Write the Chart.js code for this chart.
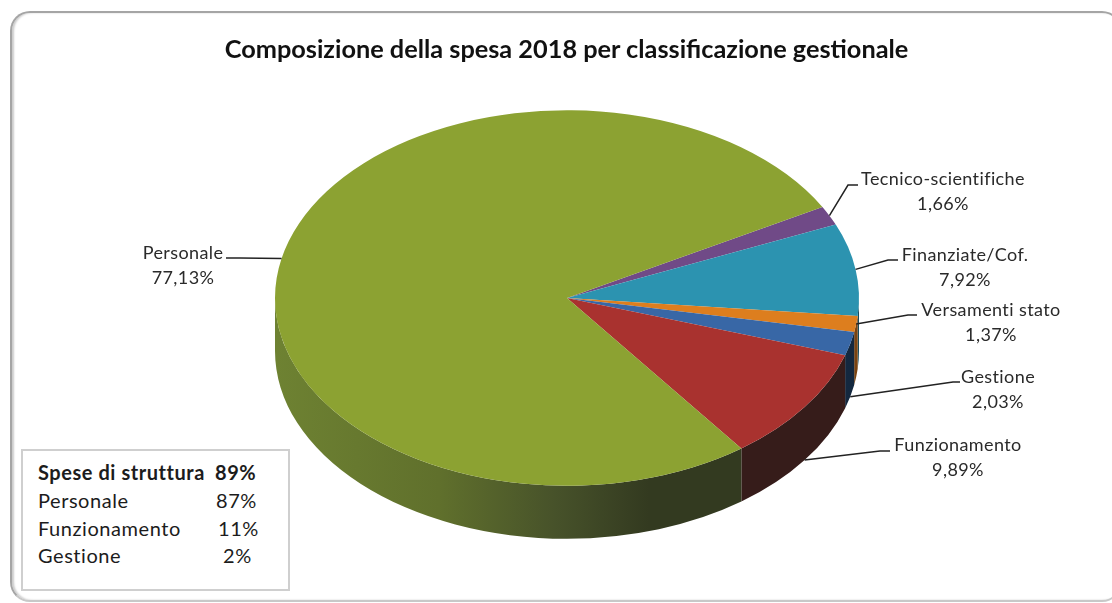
<!DOCTYPE html>
<html lang="it">
<head>
<meta charset="UTF-8">
<title>Composizione della spesa 2018</title>
<style>
    html, body { margin: 0; padding: 0; background: #fff; overflow: hidden; }
    body { width: 1112px; height: 603px; position: relative; font-family: Lato, sans-serif; color: #1c1c1c; }
    #frame {
        position: absolute; left: 10px; top: 11px; width: 1108px; height: 587px;
        border: 2px solid #a5a5a5; border-bottom-color: #c8c8c8; border-radius: 20px;
        box-shadow: inset 2px 0 2px #ccc;
    }
    canvas { position: absolute; left: 0; top: 0; }
    h1 {
        position: absolute; left: 0; top: 32px; width: 1133px; margin: 0; text-align: center;
        font-size: 25.3px; line-height: 32px; font-weight: 700; color: #111; white-space: nowrap;
    }
    #box {
        position: absolute; left: 21px; top: 449px; width: 265px; height: 138px;
        border: 2px solid #cfcfcf; background: #fff;
    }
    #box div { position: absolute; left: 15px; font-size: 20px; line-height: 24px; letter-spacing: 0.55px; white-space: nowrap; }
</style>
<script src="https://cdn.jsdelivr.net/npm/chart.js"></script>
</head>
<body>
<div id="frame"></div>
<canvas id="pie" width="1112" height="603"></canvas>
<h1>Composizione della spesa 2018 per classificazione gestionale</h1>
<div id="box"></div>
<script>
const categories = ['Tecnico-scientifiche', 'Finanziate/Cof.', 'Versamenti stato', 'Gestione', 'Funzionamento', 'Personale'];
const values = [1.66, 7.92, 1.37, 2.03, 9.89, 77.13];
const valueLabels = ['1,66%', '7,92%', '1,37%', '2,03%', '9,89%', '77,13%'];

const boxNames = ['Spese di struttura', 'Personale', 'Funzionamento', 'Gestione'];
const boxValues = ['89%', '87%', '11%', '2%'];

const topColors = ['#704a87', '#2c93b0', '#dd7e1e', '#3867a6', '#a9322f', '#8ca232'];
const sideColors = ['#3a2646', '#174c5c', '#7a4310', '#14283f', '#361c1a', null];

const tilt = 0.643;   // squash of the disc
const depth = 53;

// where each label sits: text centre x, first line centre y, elbow x, elbow y, end of leader x
const labelPos = [
    [943, 179, 848, 185, 858],
    [965, 255, 888, 260, 898],
    [991, 310, 908, 315, 917],
    [998, 377, 953, 382, 960],
    [958, 445, 880, 451, 890],
    [183, 253, 240, 258, 226]
];
const dropLeader = [false, false, false, true, true, false];

const boxTops = [9, 37, 65, 92];
const boxValueLefts = [192, 193, 195, 200];
boxNames.forEach((name, i) => {
    const box = document.getElementById('box');
    const a = document.createElement('div');
    a.textContent = name;
    a.style.top = boxTops[i] + 'px';
    const b = document.createElement('div');
    b.textContent = boxValues[i];
    b.style.top = boxTops[i] + 'px';
    b.style.left = boxValueLefts[i] + 'px';
    if (i === 0) { a.style.fontWeight = 700; b.style.fontWeight = 700; }
    box.appendChild(a);
    box.appendChild(b);
});

const pie3d = {
    id: 'pie3d',
    beforeDatasetsDraw(chart) {
        const ctx = chart.ctx;
        const arcs = chart.getDatasetMeta(0).data;
        arcs.forEach((arc, i) => {
            const p = arc.getProps(['x', 'y', 'startAngle', 'endAngle', 'outerRadius'], true);
            // only the front half of the rim is visible
            const a = Math.max(p.startAngle, 0);
            const b = Math.min(p.endAngle, Math.PI);
            if (b <= a) return;
            let fill = sideColors[i];
            if (!fill) {
                fill = ctx.createLinearGradient(p.x - p.outerRadius, 0, p.x + 175, 0);
                fill.addColorStop(0, '#6e8232');
                fill.addColorStop(0.35, '#60702c');
                fill.addColorStop(0.6, '#47522a');
                fill.addColorStop(0.8, '#333a20');
                fill.addColorStop(1, '#333a20');
            }
            ctx.beginPath();
            ctx.ellipse(p.x, p.y, p.outerRadius, p.outerRadius * tilt, 0, a, b);
            ctx.ellipse(p.x, p.y + depth, p.outerRadius, p.outerRadius * tilt, 0, b, a, true);
            ctx.closePath();
            ctx.fillStyle = fill;
            ctx.fill();
        });
        const c = arcs[0];
        ctx.save();
        ctx.translate(0, c.y);
        ctx.scale(1, tilt);
        ctx.translate(0, -c.y);
    },
    afterDatasetsDraw(chart) {
        chart.ctx.restore();
        const ctx = chart.ctx;
        ctx.save();
        chart.getDatasetMeta(0).data.forEach((arc, i) => {
            const p = arc.getProps(['x', 'y', 'startAngle', 'endAngle', 'outerRadius'], true);
            const mid = (p.startAngle + p.endAngle) / 2;
            const ax = p.x + p.outerRadius * Math.cos(mid);
            const ay = p.y + p.outerRadius * tilt * Math.sin(mid) + (dropLeader[i] ? depth : 0);
            const [tx, ty, ex, ey, endX] = labelPos[i];
            ctx.beginPath();
            ctx.moveTo(ax, ay);
            ctx.lineTo(ex, ey);
            ctx.lineTo(endX, ey);
            ctx.strokeStyle = '#222';
            ctx.lineWidth = 1.5;
            ctx.stroke();
            ctx.fillStyle = '#2a2a2a';
            ctx.font = '18px Lato';
            ctx.letterSpacing = '0.4px';
            ctx.textAlign = 'center';
            ctx.textBaseline = 'middle';
            ctx.fillText(categories[i], tx, ty);
            ctx.fillText(valueLabels[i], tx, ty + 25);
        });
        ctx.restore();
    }
};

new Chart(document.getElementById('pie'), {
    type: 'pie',
    data: {
        labels: categories,
        datasets: [{
            data: values,
            backgroundColor: topColors,
            borderWidth: 0,
            clip: false
        }]
    },
    options: {
        responsive: false,
        animation: false,
        rotation: 61,
        layout: { padding: { left: 275, right: 253, top: 6, bottom: 13 } },
        plugins: { legend: { display: false }, tooltip: { enabled: false } }
    },
    plugins: [pie3d]
});
</script>
</body>
</html>
